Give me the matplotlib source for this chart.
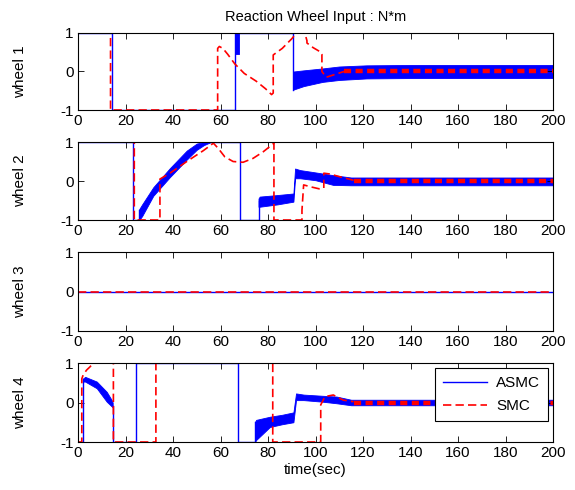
import matplotlib
matplotlib.use("Agg")
import matplotlib.pyplot as plt
import numpy as np

plt.rcParams['font.family'] = ['Liberation Sans', 'DejaVu Sans']
plt.rcParams['axes.unicode_minus'] = False

# ---------------- data ----------------
title = "Reaction Wheel Input : N*m"
xlabel = "time(sec)"
ylabels = ["wheel 1", "wheel 2", "wheel 3", "wheel 4"]
xticks = [0, 20, 40, 60, 80, 100, 120, 140, 160, 180, 200]
yticks = [-1, 0, 1]

# ---- wheel 1 ----
asmc1_t = [0, 14.2, 14.2, 66.0, 66.0, 90.7, 90.7]
asmc1_y = [1, 1, -1, -1, 1, 1, -0.47]
asmc1_bands = [
    ([66.0, 67.8], [0.45, 0.45], [1.0, 1.0]),
    ([90.7, 95, 103, 110, 121.5, 140, 200],
     [-0.47, -0.38, -0.27, -0.22, -0.18, -0.17, -0.17],
     [0.0, 0.03, 0.08, 0.13, 0.16, 0.17, 0.17]),
]
smc1_t = [0, 13.7, 13.7, 58.8, 58.8, 59.5, 61, 63, 66, 70, 75, 79, 81.5, 82.2, 82.2,
          86, 90, 92, 95.5, 96.4, 96.4, 99, 102.3, 102.7, 102.7, 104.5, 108, 112]
smc1_y = [1, 1, -1, -1, 0.6, 0.65, 0.6, 0.45, 0.2, -0.05, -0.25, -0.45, -0.6, -0.56, 0.43,
          0.6, 0.85, 1.0, 1.0, 0.8, 0.74, 0.62, 0.5, 0.45, 0.0, -0.15, -0.08, 0.0]
smc1_ss_t = [112, 200]
smc1_ss_y = [0.0, 0.0]

# ---- wheel 2 ----
asmc2_t = [0, 23.0, 23.0, 25.8, 25.8, np.nan, 55, 68.3, 68.3, 76.0, 76.0]
asmc2_y = [1, 1, -1, -1, -0.75, np.nan, 1, 1, -1, -1, -0.5]
asmc2_bands = [
    ([25.8, 27, 31.7, 38.7, 45.8, 50.0, 53.0, 56.0],
     [-1.0, -0.9, -0.38, 0.1, 0.55, 0.8, 0.92, 1.0],
     [-0.72, -0.6, -0.16, 0.33, 0.78, 0.96, 1.0, 1.0]),
    ([76.0, 76.5, 84, 90.7, 91.4, 93.5, 100, 107.4, 115, 200],
     [-0.66, -0.66, -0.6, -0.53, 0.07, 0.07, 0.02, -0.1, -0.11, -0.11],
     [-0.45, -0.4, -0.36, -0.32, 0.32, 0.28, 0.22, 0.15, 0.09, 0.09]),
]
smc2_t = [0, 23.7, 23.7, 34.5, 34.5, 38.7, 45.8, 52.8, 57, 59, 61.8, 65.3, 69.5, 73.7,
          78, 81.5, 82.5, 82.5, 94.3, 94.3, 95, 98, 101.5, 103.5, 103.5, 106, 109, 112, 116]
smc2_y = [1, 1, -1, -1, 0.05, 0.2, 0.5, 0.78, 0.97, 0.84, 0.62, 0.5, 0.48, 0.58,
          0.75, 0.92, 0.97, -1, -1, -0.75, -0.1, -0.15, -0.2, -0.18, 0.2, 0.18, 0.13, 0.08, 0.02]
smc2_ss_t = [116, 200]
smc2_ss_y = [0.0, 0.0]

# ---- wheel 3 ----
asmc3_t = [0, 200]
asmc3_y = [0, 0]
asmc3_bands = []
smc3_t = [0, 200]
smc3_y = [0, 0]
smc3_ss_t = []
smc3_ss_y = []

# ---- wheel 4 ----
asmc4_t = [0, 2.0, 2.0, np.nan, 14.6, 14.6, 24.4, 24.4, 67.5, 67.5, 74.5, 74.5]
asmc4_y = [-1, -1, 0.6, np.nan, -0.1, -1, -1, 1, 1, -1, -1, -0.5]
asmc4_bands = [
    ([2.0, 3.0, 7.9, 12.1, 14.2, 14.6],
     [0.53, 0.53, 0.36, 0.02, -0.1, -0.12],
     [0.6, 0.65, 0.53, 0.27, 0.06, 0.0]),
    ([74.5, 75, 80.8, 86, 90.7, 91.8, 95, 103, 108.9, 115, 200],
     [-1.0, -0.95, -0.62, -0.55, -0.5, 0.06, 0.06, 0.02, -0.02, -0.07, -0.07],
     [-0.5, -0.44, -0.36, -0.31, -0.25, 0.23, 0.2, 0.17, 0.15, 0.07, 0.07]),
]
smc4_t = [0, 1.6, 1.6, 2.2, 3.6, 5.0, 6.5, 14.9, 14.9, 32.8, 32.8, 82.0, 82.0,
          102.2, 102.2, 104, 107.5, 111.7, 116]
smc4_y = [-1, -1, 0.6, 0.7, 0.82, 0.9, 1.0, 1.0, -1, -1, 1, 1, -1,
          -1, -0.06, 0.15, 0.19, 0.06, 0.02]
smc4_ss_t = [116, 200]
smc4_ss_y = [0.0, 0.0]

wheels = [
    (asmc1_t, asmc1_y, asmc1_bands, smc1_t, smc1_y, smc1_ss_t, smc1_ss_y),
    (asmc2_t, asmc2_y, asmc2_bands, smc2_t, smc2_y, smc2_ss_t, smc2_ss_y),
    (asmc3_t, asmc3_y, asmc3_bands, smc3_t, smc3_y, smc3_ss_t, smc3_ss_y),
    (asmc4_t, asmc4_y, asmc4_bands, smc4_t, smc4_y, smc4_ss_t, smc4_ss_y),
]

# ---------------- figure ----------------
W, H = 575, 490
fig = plt.figure(figsize=(W / 100, H / 100), dpi=100)
left, right = 78, 553
tops = [33, 142, 252, 363]
bottoms = [110, 220, 331, 442]

blue = '#0000ff'
red = '#ff0000'
axes = []
for i, (at, ay, bands, st, sy, sst, ssy) in enumerate(wheels):
    ax = fig.add_axes([left / W, 1 - bottoms[i] / H, (right - left) / W,
                       (bottoms[i] - tops[i]) / H])
    axes.append(ax)
    for bt, blo, bhi in bands:
        ax.fill_between(bt, blo, bhi, color=blue, lw=0.6, edgecolor=blue)
    ax.plot(at, ay, color=blue, lw=1.0, label='ASMC')
    ax.plot(st, sy, color=red, lw=1.2, dashes=(5, 2.5), label='SMC')
    if len(sst):
        ax.plot(sst, ssy, color=red, lw=3.2, dashes=(1.6, 1.0))
    ax.set_xlim(0, 200)
    ax.set_ylim(-1, 1)
    ax.set_xticks(xticks)
    ax.set_yticks(yticks)
    ax.tick_params(direction='in', top=True, right=True, length=4, width=0.6,
                   labelsize=11, pad=3)
    for s in ax.spines.values():
        s.set_linewidth(0.8)
    ax.set_ylabel(ylabels[i], fontsize=11, labelpad=24)

axes[0].set_title(title, fontsize=10.5, pad=9)
axes[3].set_xlabel(xlabel, fontsize=11, labelpad=2)
leg = axes[3].legend(loc='upper right', fontsize=11, handlelength=2.9,
                     handletextpad=0.6, fancybox=False, edgecolor='black',
                     framealpha=1, borderaxespad=0.35, borderpad=0.5,
                     labelspacing=0.6)
leg.get_frame().set_linewidth(0.8)

fig.savefig('out.png', dpi=100)
